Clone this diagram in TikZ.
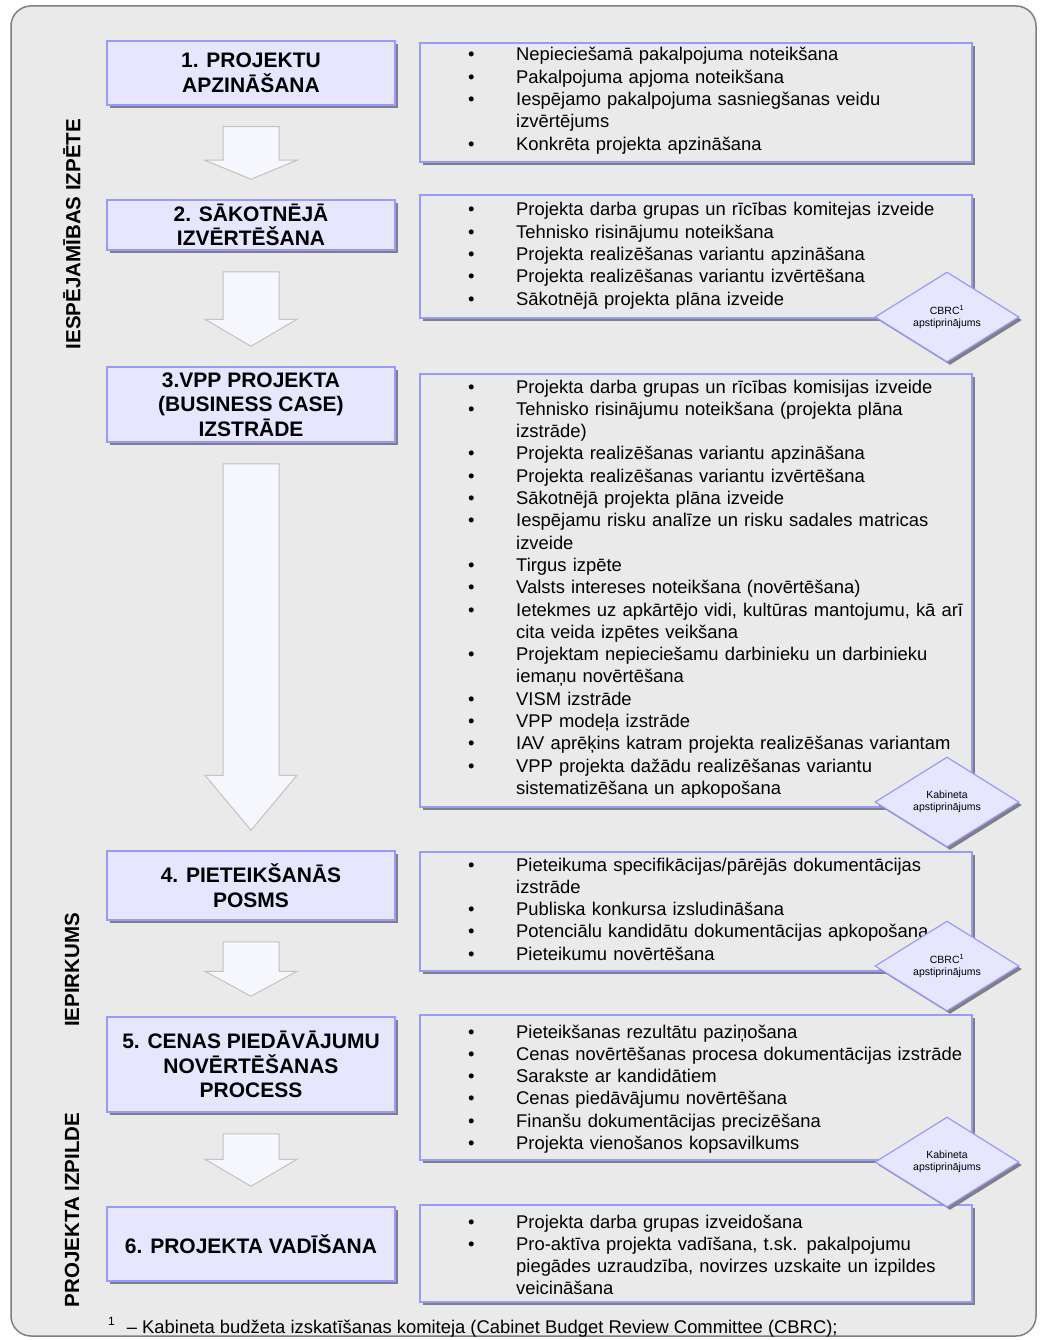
\documentclass[tikz,border=0pt]{standalone}
\usepackage{fontspec}
\setmainfont{Liberation Sans}
\usetikzlibrary{shapes.geometric,shadows,calc}

\definecolor{framegray}{HTML}{EAEAEA}
\definecolor{frameline}{HTML}{7F7F7F}
\definecolor{stagefill}{HTML}{E6E6FF}
\definecolor{stageline}{HTML}{9999FF}
\definecolor{arrowfill}{HTML}{F6F6FD}
\definecolor{arrowline}{HTML}{C2C2C2}
\definecolor{shadowgray}{HTML}{808080}

% one bullet line of a task list (\newline keeps the hanging indent)
\newcommand{\bitem}[1]{\noindent\hangindent=48pt\hangafter=1\makebox[48pt][l]{\textbullet}#1\par}

% white block arrow between two stage boxes
\newcommand{\stagearrow}[3]{%
  \path ($(#1.south)+(0,21)$) coordinate (#1_top) ($(#2.north)+(0,-20)$) coordinate (#1_tip);
  \draw[bigarrow] let \p1=(#1_top), \p2=(#1_tip) in
    (\x1-28pt,\y1) -- (\x1+28pt,\y1) -- (\x1+28pt,\y2+#3) -- (\x1+46pt,\y2+#3)
    -- (\x1,\y2) -- (\x1-46pt,\y2+#3) -- (\x1-28pt,\y2+#3) -- cycle;
}

\begin{document}
\begin{tikzpicture}[
    x=1pt, y=-1pt,
    stagebox/.style={draw=stageline, line width=1.5pt, fill=stagefill, minimum width=288pt, inner sep=0pt,
      align=center, font=\fontsize{21}{24.5}\selectfont\bfseries,
      drop shadow={shadow xshift=3pt, shadow yshift=-3pt, opacity=1, fill=shadowgray}},
    taskbox/.style={draw=stageline, line width=1.5pt, fill=framegray, minimum width=552pt, inner sep=0pt,
      drop shadow={shadow xshift=3pt, shadow yshift=-3pt, opacity=1, fill=shadowgray}},
    tasklist/.style={anchor=base west, inner sep=0pt, text width=520pt, align=left,
      font=\fontsize{18.4}{22.3}\selectfont},
    approval/.style={diamond, aspect=1.6, draw=stageline, line width=1.2pt, fill=stagefill,
      minimum width=144pt, minimum height=90pt, inner sep=0pt, align=center,
      font=\fontsize{10.5}{12.5}\selectfont,
      drop shadow={shadow xshift=3pt, shadow yshift=-3pt, opacity=1, fill=shadowgray}},
    bigarrow/.style={draw=arrowline, line width=1pt, fill=arrowfill},
    phaselabel/.style={rotate=90, font=\fontsize{20.5}{24}\selectfont\bfseries}
  ]
  \useasboundingbox (0,0) rectangle (1041,1340);
  \draw[frameline, fill=framegray, rounded corners=20pt, line width=1.5pt] (11,6) rectangle (1036,1336);

  \def\stagex{251}
  \def\taskx{696}
  \def\listx{468}
  \def\approvalx{947}

  %% Stages

  \node[stagebox, minimum height=64pt] (stage1) at (\stagex,73) {1. PROJEKTU\\APZINĀŠANA};
  \node[stagebox, minimum height=50pt] (stage2) at (\stagex,225) {2. SĀKOTNĒJĀ\\IZVĒRTĒŠANA};
  \node[stagebox, minimum height=75pt] (stage3) at (\stagex,404.5) {3.VPP PROJEKTA\\(BUSINESS CASE)\\IZSTRĀDE};
  \node[stagebox, minimum height=69pt] (stage4) at (\stagex,885.5) {4. PIETEIKŠANĀS\\POSMS};
  \node[stagebox, minimum height=95pt] (stage5) at (\stagex,1064.5) {5. CENAS PIEDĀVĀJUMU\\NOVĒRTĒŠANAS\\PROCESS};
  \node[stagebox, minimum height=74pt] (stage6) at (\stagex,1244) {6. PROJEKTA VADĪŠANA};

  \stagearrow{stage1}{stage2}{19}
  \stagearrow{stage2}{stage3}{27}
  \stagearrow{stage3}{stage4}{55}
  \stagearrow{stage4}{stage5}{25}
  \stagearrow{stage5}{stage6}{27}

  %% Tasks of each stage

  \node[taskbox, minimum height=119pt] (tasks1) at (\taskx,102.5) {};
  \node[tasklist] (list1) at (\listx,61) {%
    \bitem{Nepieciešamā pakalpojuma noteikšana}
    \bitem{Pakalpojuma apjoma noteikšana}
    \bitem{Iespējamo pakalpojuma sasniegšanas veidu\newline izvērtējums}
    \bitem{Konkrēta projekta apzināšana}};

  \node[taskbox, minimum height=123pt] (tasks2) at (\taskx,256.5) {};
  \node[tasklist] (list2) at (\listx,216) {%
    \bitem{Projekta darba grupas un rīcības komitejas izveide}
    \bitem{Tehnisko risinājumu noteikšana}
    \bitem{Projekta realizēšanas variantu apzināšana}
    \bitem{Projekta realizēšanas variantu izvērtēšana}
    \bitem{Sākotnējā projekta plāna izveide}};

  \node[taskbox, minimum height=433pt] (tasks3) at (\taskx,590.5) {};
  \node[tasklist] (list3) at (\listx,393) {%
    \bitem{Projekta darba grupas un rīcības komisijas izveide}
    \bitem{Tehnisko risinājumu noteikšana (projekta plāna\newline izstrāde)}
    \bitem{Projekta realizēšanas variantu apzināšana}
    \bitem{Projekta realizēšanas variantu izvērtēšana}
    \bitem{Sākotnējā projekta plāna izveide}
    \bitem{Iespējamu risku analīze un risku sadales matricas\newline izveide}
    \bitem{Tirgus izpēte}
    \bitem{Valsts intereses noteikšana (novērtēšana)}
    \bitem{Ietekmes uz apkārtējo vidi, kultūras mantojumu, kā arī\newline cita veida izpētes veikšana}
    \bitem{Projektam nepieciešamu darbinieku un darbinieku\newline iemaņu novērtēšana}
    \bitem{VISM izstrāde}
    \bitem{VPP modeļa izstrāde}
    \bitem{IAV aprēķins katram projekta realizēšanas variantam}
    \bitem{VPP projekta dažādu realizēšanas variantu\newline sistematizēšana un apkopošana}};

  \node[taskbox, minimum height=119pt] (tasks4) at (\taskx,911.5) {};
  \node[tasklist] (list4) at (\listx,871) {%
    \bitem{Pieteikuma specifikācijas/pārējās dokumentācijas\newline izstrāde}
    \bitem{Publiska konkursa izsludināšana}
    \bitem{Potenciālu kandidātu dokumentācijas apkopošana}
    \bitem{Pieteikumu novērtēšana}};

  \node[taskbox, minimum height=145pt] (tasks5) at (\taskx,1087.5) {};
  \node[tasklist] (list5) at (\listx,1038) {%
    \bitem{Pieteikšanas rezultātu paziņošana}
    \bitem{Cenas novērtēšanas procesa dokumentācijas izstrāde}
    \bitem{Sarakste ar kandidātiem}
    \bitem{Cenas piedāvājumu novērtēšana}
    \bitem{Finanšu dokumentācijas precizēšana}
    \bitem{Projekta vienošanos kopsavilkums}};

  \node[taskbox, minimum height=97pt] (tasks6) at (\taskx,1253.5) {};
  \node[tasklist] (list6) at (\listx,1228) {%
    \bitem{Projekta darba grupas izveidošana}
    \bitem{Pro-aktīva projekta vadīšana, t.sk. pakalpojumu\newline piegādes uzraudzība, novirzes uzskaite un izpildes\newline veicināšana}};

  %% Approvals

  \node[approval] (approval1) at (\approvalx,317) {CBRC\textsuperscript{1}\\apstiprinājums};
  \node[approval] (approval2) at (\approvalx,802) {Kabineta\\apstiprinājums};
  \node[approval] (approval3) at (\approvalx,966) {CBRC\textsuperscript{1}\\apstiprinājums};
  \node[approval] (approval4) at (\approvalx,1162) {Kabineta\\apstiprinājums};

  %% Phases

  \node[phaselabel] (phase1) at (72,234) {IESPĒJAMĪBAS IZPĒTE};
  \node[phaselabel] (phase2) at (72,970) {IEPIRKUMS};
  \node[phaselabel] (phase3) at (72,1210) {PROJEKTA IZPILDE};

  \node[anchor=base west, inner sep=0pt, font=\fontsize{18.4}{22}\selectfont] (footnote) at (108,1333)
    {\raisebox{8pt}{\fontsize{12}{12}\selectfont 1}\hspace{12pt}– Kabineta budžeta izskatīšanas komiteja (Cabinet Budget Review Committee (CBRC);};
\end{tikzpicture}
\end{document}
